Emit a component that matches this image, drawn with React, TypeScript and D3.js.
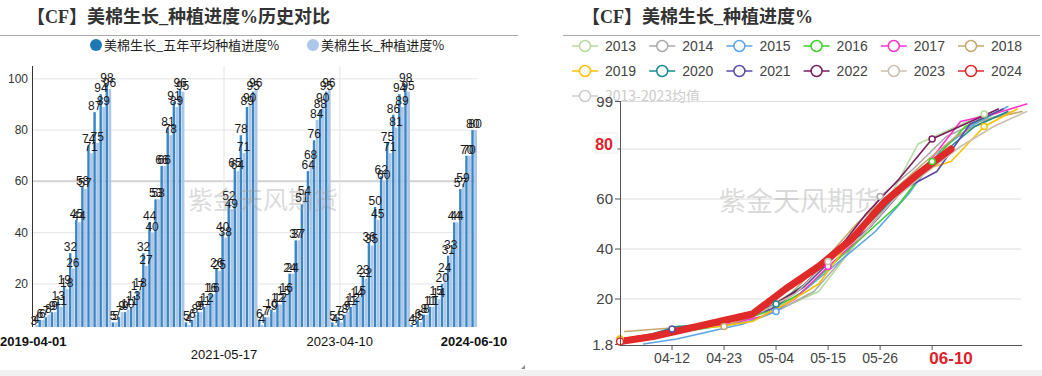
import React from 'react';
import * as d3 from 'd3';

// ---------- Left chart data (weekly, five-year average vs current) ----------
const BAR_YEARS = ['2019', '2020', '2021', '2022', '2023', '2024'];
const BAR_START = ['2019-04-01', '2020-04-06', '2021-04-05', '2022-04-04', '2023-04-03', '2024-04-01'];
const avg2019 = [3, 6, 7, 9, 13, 19, 32, 45, 58, 74, 87, 94, 98];
const cur2019 = [4, 6, 8, 9, 11, 18, 26, 44, 57, 71, 75, 89, 96];
const avg2020 = [5, 7, 9, 11, 17, 32, 44, 53, 66, 81, 91, 96];
const cur2020 = [5, 9, 10, 13, 18, 27, 40, 53, 66, 78, 89, 95];
const avg2021 = [5, 6, 9, 11, 16, 26, 40, 52, 65, 78, 89, 95];
const cur2021 = [4, 8, 9, 12, 16, 25, 38, 49, 64, 71, 90, 96];
const avg2022 = [6, 7, 10, 12, 15, 24, 37, 51, 64, 76, 88, 95];
const cur2022 = [4, 7, 9, 12, 16, 24, 37, 54, 68, 84, 90, 96];
const avg2023 = [5, 7, 8, 11, 14, 23, 36, 50, 62, 75, 86, 94, 98];
const cur2023 = [4, 5, 9, 12, 15, 22, 35, 45, 60, 71, 81, 89, 95];
const avg2024 = [4, 6, 8, 11, 15, 20, 31, 44, 57, 70, 80];
const cur2024 = [3, 5, 8, 11, 14, 24, 33, 44, 59, 70, 80];
const AVG_BY_YEAR = [avg2019, avg2020, avg2021, avg2022, avg2023, avg2024];
const CUR_BY_YEAR = [cur2019, cur2020, cur2021, cur2022, cur2023, cur2024];
const LEFT_X_LABELS = ['2019-04-01', '2021-05-17', '2023-04-10', '2024-06-10'];
const LEFT_Y_TICKS = [20, 40, 60, 80, 100];

// ---------- Right chart data (yearly planting progress lines) ----------
const LINE_YEARS = ['2013', '2014', '2015', '2016', '2017', '2018', '2019', '2020', '2021', '2022', '2023', '2024'];
const LINE_START = ['2013-04-01', '2014-04-07', '2015-04-06', '2016-04-04', '2017-04-03', '2018-04-02',
  '2019-04-01', '2020-04-06', '2021-04-05', '2022-04-04', '2023-04-03', '2024-04-01'];
const v2013 = [4, 6, 8, 10, 13, 17, 23, 40, 57, 82, 88, 94];
const v2014 = [5, 7, 9, 11, 16, 23, 38, 61, 72, 85, 91, 95];
const v2015 = [2, 4, 7, 10, 15, 25, 36, 47, 62, 80, 90, 97];
const v2016 = [4, 6, 8, 10, 15, 22, 34, 46, 58, 75, 89, 95];
const v2017 = [4, 6, 8, 10, 13, 20, 33, 45, 60, 74, 91, 94, 98];
const v2018 = [7, 8, 9, 9, 14, 22, 35, 50, 62, 74, 85, 92, 95];
const LINE_VALUES = [v2013, v2014, v2015, v2016, v2017, v2018, cur2019, cur2020, cur2021, cur2022, cur2023, cur2024];
const LINE_COLORS = ['#b5dba0', '#aaaaaa', '#5aa5e6', '#3ecf2b', '#ff33cc', '#c4a86c',
  '#ffc000', '#168c8c', '#5b4aa8', '#7a1c5e', '#cbbfb0', '#e02a2a'];
const AVG_LEGEND = '2013-2023均值';
const RIGHT_X_TICKS = ['04-12', '04-23', '05-04', '05-15', '05-26', '06-06'];
const RIGHT_X_LABELS = ['04-12', '04-23', '05-04', '05-15', '05-26'];
const RIGHT_HIGHLIGHT_X = '06-10';
const MARKER_DAYS = ['04-01', '04-12', '04-23', '05-04', '05-15', '05-26', '06-06', '06-17'];
const RIGHT_Y_TICKS = [20, 40, 60];
const RIGHT_Y_MIN = 1.8;
const RIGHT_Y_MAX = 99;
const RIGHT_HIGHLIGHT_Y = 80;

const parse = d3.timeParse('%Y-%m-%d');
const fmt = d3.timeFormat('%Y-%m-%d');
const mdFmt = d3.timeFormat('%m-%d');
const toRefYear = (md: string) => parse('2001-' + md) as Date;

const CJK = "'Noto Sans CJK SC', 'Liberation Sans', sans-serif";
const NUM = "'Liberation Sans', Arial, sans-serif";
const TITLE = "'Liberation Serif', 'Noto Sans CJK SC', serif";

export default function App() {
  // ---- left chart ----
  const cats: { date: string; avg: number; cur: number }[] = [];
  BAR_YEARS.forEach((_, yi) => {
    const start = parse(BAR_START[yi]) as Date;
    AVG_BY_YEAR[yi].forEach((a, i) => {
      cats.push({ date: fmt(d3.timeDay.offset(start, 7 * i)), avg: a, cur: CUR_BY_YEAR[yi][i] });
    });
  });
  const xL = d3.scaleBand<string>().domain(cats.map((c) => c.date)).range([32, 477]).padding(0);
  const bw = xL.bandwidth();
  const barW = bw * 0.4;
  const yL = d3.scaleLinear().domain([3.2, 105]).range([327, 66]);
  const base = yL(3.2);

  // ---- right chart ----
  const xR = d3.scaleTime().domain([toRefYear('04-01'), toRefYear('06-25')]).range([620, 1022]);
  const yR = d3.scaleLinear().domain([RIGHT_Y_MIN, RIGHT_Y_MAX]).range([344.5, 101.5]);
  const series = LINE_YEARS.map((yr, i) => {
    const start = parse(LINE_START[i]) as Date;
    const pts = LINE_VALUES[i].map((v, k) => {
      const md = mdFmt(d3.timeDay.offset(start, 7 * k));
      return { md, v };
    });
    return { yr, color: LINE_COLORS[i], pts, last: i === LINE_YEARS.length - 1 };
  });
  const line = d3
    .line<{ md: string; v: number }>()
    .x((p) => xR(toRefYear(p.md)))
    .y((p) => yR(p.v));

  const legendRows = [LINE_YEARS.slice(0, 6), LINE_YEARS.slice(6, 12)];

  return (
    <svg width={1042} height={376} style={{ position: 'absolute', left: 0, top: 0, background: '#fff' }}>
      <rect x={0} y={370} width={1042} height={6} fill="#f1f1f1" />

      {/* ================= LEFT ================= */}
      <text x={27} y={23} fontFamily={TITLE} fontWeight="bold" fontSize={18} fill="#333">
        【CF】美棉生长_种植进度%历史对比
      </text>
      <line x1={0} x2={518} y1={35.5} y2={35.5} stroke="#aaa" />
      <circle cx={96} cy={45} r={6} fill="#1f77b4" />
      <text x={104} y={50} fontFamily={CJK} fontSize={13} fill="#222">美棉生长_五年平均种植进度%</text>
      <circle cx={313} cy={45} r={6} fill="#aec7e8" />
      <text x={321} y={50} fontFamily={CJK} fontSize={13} fill="#222">美棉生长_种植进度%</text>

      {LEFT_Y_TICKS.map((t) => (
        <g key={t}>
          <line x1={32} x2={477} y1={yL(t)} y2={yL(t)} stroke={t === 60 ? '#d2d2d2' : '#e4e4e4'} strokeWidth={t === 60 ? 2 : 1} />
          <text x={28} y={yL(t) + 4} textAnchor="end" fontFamily={NUM} fontSize={12} fill="#333">{t}</text>
        </g>
      ))}
      {LEFT_X_LABELS.slice(1, 3).map((l) => (
        <line key={l} x1={(xL(l) as number) + bw / 2} x2={(xL(l) as number) + bw / 2} y1={66} y2={327} stroke="#e4e4e4" />
      ))}

      {cats.map((c) => {
        const x0 = xL(c.date) as number;
        const cx = x0 + bw / 2;
        return (
          <g key={c.date}>
            <rect x={cx - barW - 0.2} y={Math.min(yL(c.avg), base)} width={barW} height={Math.max(0, base - yL(c.avg))} fill="#3a87c6" />
            <rect x={cx + 0.2} y={Math.min(yL(c.cur), base)} width={barW + 0.4} height={Math.max(0, base - yL(c.cur))} fill="#aec7e8" />
          </g>
        );
      })}
      {cats.map((c) => {
        const x0 = xL(c.date) as number;
        const cx = x0 + bw / 2;
        return (
          <g key={'l' + c.date} fontFamily={NUM} fontSize={12} fill="#1a1a1a" textAnchor="middle">
            <text x={cx - barW / 2} y={Math.min(yL(c.avg), base) - 2}>{c.avg}</text>
            <text x={cx + barW / 2} y={Math.min(yL(c.cur), base) - 2}>{c.cur}</text>
          </g>
        );
      })}
      <line x1={32.5} x2={32.5} y1={66} y2={327} stroke="#333" />

      {LEFT_X_LABELS.map((l, i) => {
        const cx = (xL(l) as number) + bw / 2;
        const bold = i === 0 || i === LEFT_X_LABELS.length - 1;
        return (
          <text key={l} x={i === 0 ? 0 : cx} y={i === 1 ? 359 : 346} textAnchor={i === 0 ? 'start' : 'middle'}
            fontFamily={NUM} fontSize={13} fontWeight={bold ? 'bold' : 'normal'} fill="#111">{l}</text>
        );
      })}
      <text x={263} y={209} textAnchor="middle" fontFamily={CJK} fontSize={25} fill="rgba(150,150,150,0.35)">紫金天风期货</text>
      <path d="M525,365 L525,369 L521,369 Z" fill="#888" />

      {/* ================= RIGHT ================= */}
      <text x={582} y={23} fontFamily={TITLE} fontWeight="bold" fontSize={18} fill="#333">
        【CF】美棉生长_种植进度%
      </text>
      <line x1={563} x2={1040} y1={35.5} y2={35.5} stroke="#aaa" />

      {legendRows.map((row, ri) =>
        row.map((yr, ci) => {
          const idx = ri * 6 + ci;
          const cx = 585 + ci * 77.2;
          const cy = 46 + ri * 25;
          return (
            <g key={yr}>
              <line x1={cx - 13} x2={cx + 13} y1={cy} y2={cy} stroke={LINE_COLORS[idx]} strokeWidth={1.5} />
              <circle cx={cx} cy={cy} r={5.5} fill="#fff" stroke={LINE_COLORS[idx]} strokeWidth={1.5} />
              <text x={cx + 20} y={cy + 5} fontFamily={NUM} fontSize={14} fill="#444">{yr}</text>
            </g>
          );
        })
      )}
      <g>
        <line x1={572} x2={598} y1={96} y2={96} stroke="#ccc" strokeWidth={1.5} />
        <circle cx={585} cy={96} r={5.5} fill="#fff" stroke="#ccc" strokeWidth={1.5} />
        <text x={605} y={101} fontFamily={CJK} fontSize={14} fill="#ccc">{AVG_LEGEND}</text>
      </g>

      {[RIGHT_Y_MAX, RIGHT_HIGHLIGHT_Y, ...RIGHT_Y_TICKS].map((t) => (
        <line key={'g' + t} x1={620} x2={1021} y1={yR(t)} y2={yR(t)} stroke="#dcdcdc" />
      ))}
      {[RIGHT_Y_MAX, RIGHT_HIGHLIGHT_Y, ...RIGHT_Y_TICKS, RIGHT_Y_MIN].map((t) => (
        <line key={'t' + t} x1={615} x2={620} y1={yR(t)} y2={yR(t)} stroke="#555" />
      ))}
      {[RIGHT_Y_MAX, ...RIGHT_Y_TICKS, RIGHT_Y_MIN].map((t) => (
        <text key={'yl' + t} x={613} y={yR(t) + 5} textAnchor="end" fontFamily={NUM} fontSize={15} fill="#444">{t}</text>
      ))}
      <rect x={595} y={133} width={22} height={20} fill="#fff" stroke="#eee" />
      <text x={613} y={yR(RIGHT_HIGHLIGHT_Y) + 1} textAnchor="end" fontFamily={NUM} fontSize={16} fontWeight="bold" fill="#e0202a">{RIGHT_HIGHLIGHT_Y}</text>

      <text x={800} y={211} textAnchor="middle" fontFamily={CJK} fontSize={27} fill="rgba(150,150,150,0.35)">紫金天风期货</text>

      {series.map((s) => (
        <path key={s.yr} d={line(s.pts) as string} fill="none" stroke={s.color}
          strokeWidth={s.last ? 7 : 1.6} strokeLinejoin="round" strokeLinecap="round" />
      ))}
      {series.map((s) =>
        s.pts
          .filter((p) => MARKER_DAYS.includes(p.md))
          .map((p) => (
            <circle key={s.yr + p.md} cx={xR(toRefYear(p.md))} cy={yR(p.v)} r={s.last ? 3.5 : 3}
              fill="#fff" stroke={s.color} strokeWidth={1.5} />
          ))
      )}

      <line x1={620.5} x2={620.5} y1={101} y2={345} stroke="#555" />
      <line x1={620} x2={1022} y1={345.5} y2={345.5} stroke="#555" />
      {RIGHT_X_TICKS.map((md) => (
        <line key={'xt' + md} x1={xR(toRefYear(md))} x2={xR(toRefYear(md))} y1={345} y2={350} stroke="#555" />
      ))}
      {RIGHT_X_LABELS.map((md) => (
        <text key={'xl' + md} x={xR(toRefYear(md))} y={363} textAnchor="middle" fontFamily={NUM} fontSize={14} fill="#444">{md}</text>
      ))}
      <text x={xR(toRefYear(RIGHT_HIGHLIGHT_X))} y={364} textAnchor="middle" fontFamily={NUM} fontSize={17} fontWeight="bold" fill="#e0202a">{RIGHT_HIGHLIGHT_X}</text>
    </svg>
  );
}
